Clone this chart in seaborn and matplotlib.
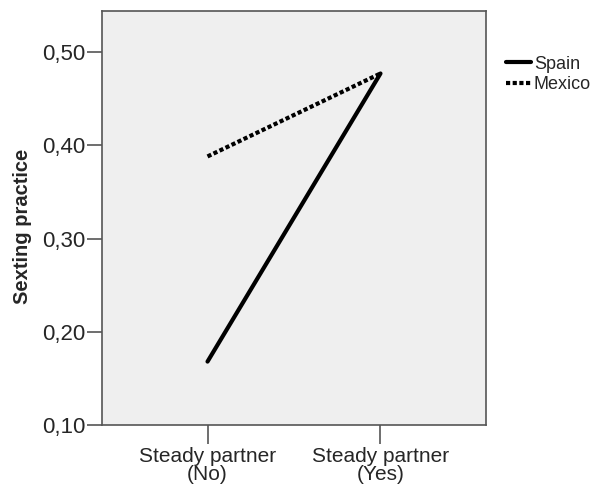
import pandas as pd
import matplotlib
matplotlib.use("Agg")
import matplotlib.pyplot as plt
import seaborn as sns

# Data
partner = ["Steady partner\n(No)", "Steady partner\n(Yes)"]
spain = [0.168, 0.477]
mexico = [0.388, 0.477]

df = pd.DataFrame({
    "partner": partner * 2,
    "pos": [0, 1] * 2,
    "sexting": spain + mexico,
    "country": ["Spain"] * 2 + ["Mexico"] * 2,
})

sns.set_style("ticks")
plt.rcParams["font.family"] = ["Liberation Sans", "DejaVu Sans"]

fig = plt.figure(figsize=(5.92, 4.92), dpi=100)
ax = fig.add_axes([102 / 592, 1 - 425 / 492, (486 - 102) / 592, (425 - 11) / 492])
ax.set_facecolor("#efefef")

sns.lineplot(data=df, x="pos", y="sexting", hue="country", style="country",
             hue_order=["Spain", "Mexico"], style_order=["Spain", "Mexico"],
             palette=["black", "black"], dashes={"Spain": "", "Mexico": (1, 0.6)},
             linewidth=3, ax=ax, legend=True)

ax.set_xlim(-0.61, 1.61)
ax.set_ylim(0.10, 0.544)
ax.set_xticks([0, 1])
ax.set_xticklabels(partner, fontsize=15, linespacing=0.95)
ax.set_yticks([0.10, 0.20, 0.30, 0.40, 0.50])
ax.set_yticklabels(["0,10", "0,20", "0,30", "0,40", "0,50"], fontsize=16)
ax.set_xlabel("")
ax.set_ylabel("Sexting practice", fontsize=14.5, fontweight="bold")
ax.yaxis.set_label_coords(-0.183, 0.48)
for s in ax.spines.values():
    s.set_color("#555555")
    s.set_linewidth(1.2)
ax.tick_params(axis="y", length=11, width=1.2, color="#555555", pad=1)
ax.tick_params(axis="x", length=14, width=1.2, color="#555555", pad=2)

leg = ax.legend(loc="upper left", bbox_to_anchor=(1.0, 0.94), frameon=False,
                fontsize=13, handlelength=1.4, handletextpad=0.15,
                borderaxespad=0.7, labelspacing=0.2)

fig.savefig("out.png", dpi=100)
